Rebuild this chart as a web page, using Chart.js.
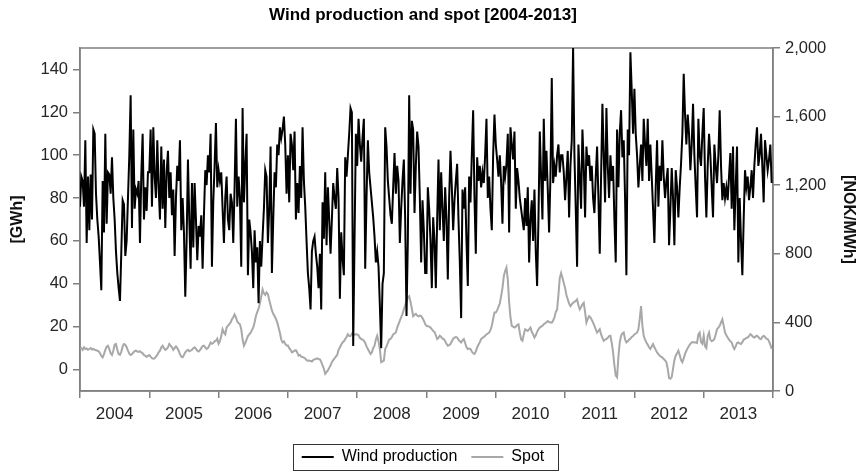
<!DOCTYPE html>
<html>
<head>
<meta charset="utf-8">
<title>Wind production and spot [2004-2013]</title>
<script src="https://cdn.jsdelivr.net/npm/chart.js@4.4.1/dist/chart.umd.min.js"></script>
<style>
  html, body { margin: 0; padding: 0; background: #fff; }
  #wrap { width: 862px; height: 472px; position: relative; }
</style>
</head>
<body>
<div id="wrap"><canvas id="chart"></canvas></div>
<script>
// ── Data (weekly values) ────────────────────────────────────
const years = [2004, 2005, 2006, 2007, 2008, 2009, 2010, 2011, 2012, 2013];
const gwhTicks = [0, 20, 40, 60, 80, 100, 120, 140];
const nokTicks = [0, 400, 800, 1200, 1600, 2000];

// Wind production [GWh], one array per year
const wind2004 = [76, 90, 88, 76, 107, 59, 90, 65, 91, 70, 112, 110, 82, 70, 62, 50, 37, 88, 64, 110, 68, 92, 91, 82, 99, 80, 70, 55, 45, 38, 32, 55, 79, 77, 53, 60, 80, 100, 128, 66, 112, 75, 84, 82, 88, 59, 91, 110, 70, 85, 74, 92];
const wind2005 = [92, 112, 76, 113, 90, 80, 107, 85, 70, 104, 75, 98, 66, 92, 102, 80, 92, 72, 84, 53, 80, 95, 88, 107, 65, 80, 64, 34, 60, 98, 70, 47, 87, 57, 87, 70, 51, 67, 62, 72, 47, 72, 93, 86, 100, 92, 110, 48, 78, 95, 115, 85];
const wind2006 = [93, 88, 92, 75, 59, 80, 90, 70, 65, 82, 78, 59, 85, 117, 76, 90, 80, 48, 122, 78, 95, 110, 44, 70, 64, 55, 38, 65, 50, 57, 31, 60, 48, 62, 75, 93, 90, 59, 75, 104, 45, 70, 92, 85, 105, 100, 113, 108, 112, 118, 105, 82];
const wind2007 = [100, 78, 110, 105, 93, 111, 70, 87, 73, 95, 80, 113, 88, 76, 60, 45, 38, 28, 55, 60, 62, 54, 48, 38, 54, 28, 78, 61, 92, 58, 85, 70, 54, 70, 87, 80, 75, 94, 80, 33, 64, 52, 44, 99, 90, 100, 110, 122, 120, 11, 60, 110];
const wind2008 = [95, 117, 105, 97, 108, 117, 47, 80, 107, 92, 85, 78, 71, 62, 50, 55, 48, 30, 10, 40, 45, 113, 104, 88, 80, 72, 68, 85, 101, 82, 95, 88, 59, 75, 88, 98, 70, 25, 60, 128, 82, 116, 112, 73, 95, 111, 104, 80, 50, 79, 65, 45];
const wind2009 = [45, 85, 75, 60, 38, 71, 60, 38, 70, 98, 65, 92, 75, 60, 85, 70, 42, 80, 102, 85, 65, 79, 88, 96, 70, 50, 24, 84, 75, 85, 60, 39, 90, 78, 100, 121, 80, 54, 99, 88, 95, 85, 92, 87, 100, 117, 80, 90, 75, 65, 100, 119];
const wind2010 = [105, 98, 90, 100, 87, 68, 95, 90, 96, 110, 64, 113, 105, 98, 111, 75, 94, 88, 80, 75, 70, 65, 80, 67, 85, 50, 70, 79, 60, 84, 55, 39, 70, 111, 90, 70, 117, 88, 102, 84, 64, 90, 136, 87, 95, 90, 100, 105, 92, 100, 100, 92];
const wind2011 = [79, 90, 102, 71, 95, 107, 150, 100, 75, 48, 105, 90, 75, 112, 95, 71, 104, 95, 100, 88, 95, 80, 73, 90, 104, 80, 54, 90, 124, 100, 78, 122, 95, 80, 100, 88, 95, 70, 50, 112, 85, 110, 121, 99, 107, 80, 44, 112, 100, 148, 130, 110];
const wind2012 = [131, 110, 100, 85, 95, 105, 88, 117, 105, 95, 117, 88, 105, 90, 75, 59, 85, 107, 76, 95, 88, 107, 90, 80, 88, 94, 58, 75, 94, 80, 58, 93, 85, 71, 85, 96, 110, 138, 119, 105, 119, 110, 93, 105, 124, 100, 85, 71, 117, 100, 95, 110];
const wind2013 = [122, 90, 71, 95, 110, 100, 85, 71, 105, 95, 87, 100, 121, 95, 79, 87, 80, 85, 79, 90, 101, 75, 104, 65, 85, 104, 50, 80, 60, 44, 70, 93, 85, 90, 79, 85, 93, 80, 95, 105, 113, 95, 100, 110, 95, 78, 107, 100, 93, 98, 105, 87];

// Spot price [NOK/MWh], one array per year
const spot2004 = [245, 250, 240, 255, 245, 248, 240, 245, 250, 242, 245, 240, 238, 235, 232, 220, 205, 196, 215, 240, 258, 264, 245, 220, 210, 235, 270, 274, 240, 215, 212, 230, 260, 274, 270, 255, 235, 218, 210, 215, 225, 232, 235, 230, 228, 232, 225, 220, 210, 205, 200, 205];
const spot2005 = [210, 200, 192, 188, 190, 200, 210, 225, 235, 255, 264, 250, 240, 245, 255, 274, 265, 255, 240, 250, 260, 250, 235, 215, 200, 197, 210, 225, 235, 240, 232, 235, 240, 250, 255, 245, 235, 230, 238, 250, 262, 264, 255, 245, 250, 265, 283, 275, 280, 290, 293, 305];
const spot2006 = [275, 290, 320, 360, 340, 330, 370, 380, 390, 400, 418, 430, 447, 430, 405, 395, 389, 360, 300, 264, 280, 300, 320, 330, 340, 355, 370, 400, 437, 460, 480, 510, 550, 592, 570, 560, 575, 565, 530, 500, 470, 450, 437, 420, 400, 370, 340, 300, 283, 290, 275, 265];
const spot2007 = [265, 250, 240, 225, 230, 235, 238, 225, 206, 210, 200, 198, 195, 190, 180, 177, 178, 175, 172, 180, 185, 187, 190, 187, 185, 170, 150, 130, 100, 110, 120, 135, 150, 168, 180, 190, 200, 210, 240, 254, 270, 283, 290, 303, 315, 331, 320, 320, 335, 331, 330, 331];
const spot2008 = [330, 325, 310, 303, 300, 293, 280, 260, 245, 230, 216, 225, 250, 264, 300, 322, 290, 245, 168, 172, 177, 245, 260, 280, 300, 303, 315, 330, 335, 341, 370, 390, 410, 430, 450, 476, 500, 524, 545, 553, 520, 480, 437, 445, 450, 440, 435, 440, 437, 425, 410, 390];
const spot2009 = [380, 378, 375, 370, 360, 350, 345, 325, 303, 310, 322, 315, 305, 303, 290, 275, 264, 268, 274, 290, 305, 312, 315, 312, 300, 290, 283, 295, 303, 280, 255, 245, 248, 245, 230, 220, 216, 230, 254, 270, 285, 303, 310, 315, 322, 330, 335, 341, 355, 380, 420, 457];
const spot2010 = [457, 470, 490, 510, 553, 600, 669, 700, 720, 650, 520, 430, 380, 375, 370, 375, 385, 389, 340, 300, 293, 330, 360, 355, 350, 360, 370, 345, 330, 312, 325, 345, 360, 370, 375, 380, 389, 395, 400, 408, 402, 400, 399, 410, 430, 460, 476, 560, 660, 688, 660, 630];
const spot2011 = [600, 560, 534, 510, 495, 505, 514, 520, 525, 534, 500, 476, 490, 505, 514, 460, 399, 420, 437, 430, 415, 399, 380, 360, 341, 350, 360, 330, 310, 293, 300, 303, 310, 320, 322, 280, 225, 150, 90, 80, 200, 283, 322, 335, 341, 300, 283, 290, 300, 305, 315, 320];
const spot2012 = [330, 335, 341, 360, 420, 495, 380, 322, 300, 283, 270, 255, 245, 260, 274, 255, 240, 225, 215, 206, 200, 195, 187, 178, 168, 130, 75, 71, 81, 130, 180, 206, 220, 235, 210, 180, 168, 190, 216, 235, 250, 264, 275, 283, 285, 283, 283, 280, 330, 341, 285, 275];
const spot2013 = [322, 260, 250, 320, 341, 300, 290, 295, 303, 330, 360, 370, 380, 400, 418, 380, 341, 325, 312, 300, 290, 283, 260, 245, 260, 280, 283, 278, 274, 285, 300, 303, 310, 312, 320, 331, 325, 315, 312, 318, 322, 315, 305, 303, 315, 322, 315, 305, 303, 290, 270, 245];

const windYears = [wind2004, wind2005, wind2006, wind2007, wind2008, wind2009, wind2010, wind2011, wind2012, wind2013];
const spotYears = [spot2004, spot2005, spot2006, spot2007, spot2008, spot2009, spot2010, spot2011, spot2012, spot2013];

// ── Helpers ─────────────────────────────────────────────────
const FONT = "'Liberation Sans', Arial, sans-serif";
const AXIS = '#808080';
const TXT = '#262626';

// week w of year k -> x position in fractional years
function weekly(series) {
  const pts = [];
  series.forEach((vals, k) => {
    vals.forEach((v, w) => pts.push({ x: years[k] + w / vals.length, y: v }));
  });
  return pts;
}

// frame round the plot area
const framePlugin = {
  id: 'frame',
  beforeDatasetsDraw(chart) {
    const { ctx, chartArea: a } = chart;
    ctx.save();
    ctx.strokeStyle = AXIS;
    ctx.lineWidth = 1.5;
    ctx.strokeRect(a.left, a.top, a.right - a.left, a.bottom - a.top);
    ctx.restore();
  }
};

// box round the legend items
const legendBox = {
  id: 'legendBox',
  afterDraw(chart) {
    const boxes = chart.legend && chart.legend.legendHitBoxes;
    if (!boxes || !boxes.length) return;
    const left = Math.min(...boxes.map(b => b.left)) - 9;
    const right = Math.max(...boxes.map(b => b.left + b.width)) + 13;
    const top = Math.min(...boxes.map(b => b.top)) - 5;
    const bottom = Math.max(...boxes.map(b => b.top + b.height)) + 5;
    const ctx = chart.ctx;
    ctx.save();
    ctx.strokeStyle = '#333';
    ctx.lineWidth = 1;
    ctx.strokeRect(Math.round(left) + 0.5, Math.round(top) + 0.5, Math.round(right - left), Math.round(bottom - top));
    ctx.restore();
  }
};

// ── Chart ────────────────────────────────────────────────────
new Chart(document.getElementById('chart'), {
  type: 'line',
  data: {
    datasets: [{
      label: 'Wind production',
      data: weekly(windYears),
      yAxisID: 'y',
      borderColor: '#000000',
      backgroundColor: '#000000',
      borderWidth: 2,
      pointRadius: 0,
      tension: 0
    }, {
      label: 'Spot',
      data: weekly(spotYears),
      yAxisID: 'y2',
      borderColor: '#a8a8a8',
      backgroundColor: '#a8a8a8',
      borderWidth: 2,
      pointRadius: 0,
      tension: 0
    }]
  },
  options: {
    responsive: true,
    maintainAspectRatio: false,
    animation: false,
    devicePixelRatio: 1,
    layout: { padding: { left: 0, right: 16, top: 0, bottom: -3 } },
    plugins: {
      title: {
        display: true,
        text: 'Wind production and spot [2004-2013]',
        color: '#000',
        font: { family: FONT, size: 17, weight: 'bold' },
        padding: { top: 5, bottom: 22.6 }
      },
      legend: {
        position: 'bottom',
        labels: {
          usePointStyle: true,
          pointStyle: 'line',
          pointStyleWidth: 32,
          color: '#000',
          padding: 14,
          font: { family: FONT, size: 16 }
        }
      },
      tooltip: { enabled: false }
    },
    scales: {
      x: {
        type: 'linear',
        position: 'bottom',
        weight: 0,
        min: 2004,
        max: 2014,
        afterBuildTicks: s => { s.ticks = years.concat([2014]).map(v => ({ value: v })); },
        afterFit: s => { s.height = 7; },
        ticks: { display: false },
        grid: { drawOnChartArea: false, drawTicks: true, tickLength: 7, color: AXIS, lineWidth: 1.5 },
        border: { display: true, color: AXIS, width: 1.5 }
      },
      xLab: {
        type: 'linear',
        position: 'bottom',
        weight: 1,
        min: 2004,
        max: 2014,
        afterBuildTicks: s => { s.ticks = years.map(v => ({ value: v + 0.5 })); },
        afterFit: s => { s.height = 37; },
        ticks: {
          callback: v => String(Math.floor(v)),
          color: TXT,
          padding: 6,
          maxRotation: 0,
          font: { family: FONT, size: 17 }
        },
        grid: { display: false, drawTicks: false },
        border: { display: false }
      },
      y: {
        position: 'left',
        min: -10,
        max: 150,
        afterBuildTicks: s => { s.ticks = gwhTicks.map(v => ({ value: v })); },
        afterFit: s => { s.width = 80; },
        title: {
          display: true,
          text: '[GWh]',
          color: '#111',
          font: { family: FONT, size: 16, weight: 'bold' },
          padding: { top: 8, bottom: 0 }
        },
        ticks: { color: TXT, padding: 5, font: { family: FONT, size: 16.5 } },
        grid: { drawOnChartArea: false, drawTicks: true, tickLength: 7, color: AXIS, lineWidth: 1.5 },
        border: { display: true, color: AXIS, width: 1.5 }
      },
      y2: {
        position: 'right',
        min: 0,
        max: 2000,
        afterBuildTicks: s => { s.ticks = nokTicks.map(v => ({ value: v })); },
        afterFit: s => { s.width = 73; },
        title: {
          display: true,
          text: '[NOK/MWh]',
          color: '#111',
          font: { family: FONT, size: 16, weight: 'bold' },
          padding: { top: -11.6, bottom: 0 }
        },
        ticks: {
          color: TXT,
          padding: 5,
          font: { family: FONT, size: 16.5 },
          callback: v => v.toLocaleString('en-US')
        },
        grid: { drawOnChartArea: false, drawTicks: true, tickLength: 7, color: AXIS, lineWidth: 1.5 },
        border: { display: true, color: AXIS, width: 1.5 }
      }
    }
  },
  plugins: [framePlugin, legendBox]
});
</script>
</body>
</html>
